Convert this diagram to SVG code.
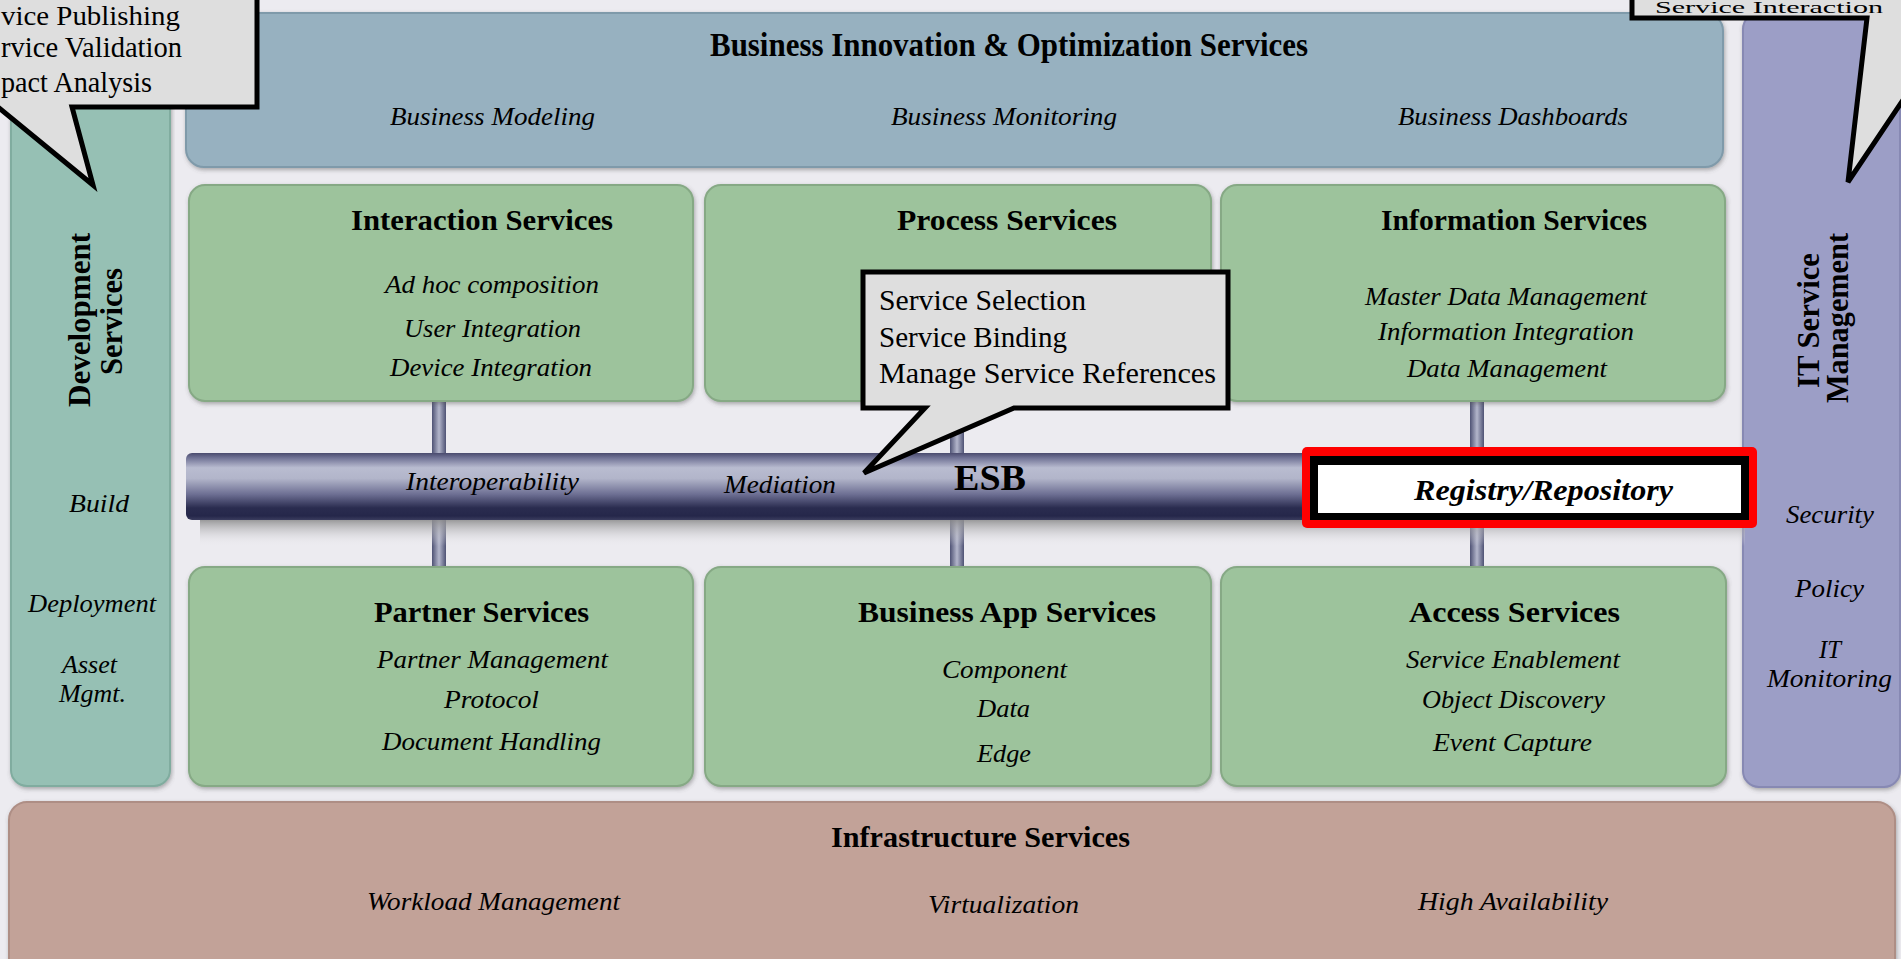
<svg xmlns="http://www.w3.org/2000/svg" width="1901" height="959" viewBox="0 0 1901 959">
<defs>
  <linearGradient id="tubeG" x1="0" y1="0" x2="0" y2="1">
    <stop offset="0" stop-color="#4a4b6e"/>
    <stop offset="0.07" stop-color="#6f7194"/>
    <stop offset="0.22" stop-color="#b9bcd0"/>
    <stop offset="0.38" stop-color="#b2b5ca"/>
    <stop offset="0.62" stop-color="#6c6e92"/>
    <stop offset="0.82" stop-color="#2a2c4f"/>
    <stop offset="0.94" stop-color="#25274a"/>
    <stop offset="1" stop-color="#3b3d5e"/>
  </linearGradient>
  <linearGradient id="pipeG" x1="0" y1="0" x2="1" y2="0">
    <stop offset="0" stop-color="#4e5274"/>
    <stop offset="0.5" stop-color="#b3b6cb"/>
    <stop offset="1" stop-color="#4e5274"/>
  </linearGradient>
  <linearGradient id="shadowG" x1="0" y1="0" x2="0" y2="1">
    <stop offset="0" stop-color="#7e7e7e"/>
    <stop offset="1" stop-color="#ECEBF0" stop-opacity="0"/>
  </linearGradient>
  <filter id="ds" x="-3%" y="-5%" width="106%" height="115%">
    <feDropShadow dx="1" dy="2" stdDeviation="2" flood-color="#555" flood-opacity="0.45"/>
  </filter>
</defs>
<style>
  .b{font-family:"Liberation Serif","Times New Roman",serif;font-weight:bold;fill:#000}
  .i{font-family:"Liberation Serif","Times New Roman",serif;font-style:italic;fill:#000}
  .r{font-family:"Liberation Serif","Times New Roman",serif;fill:#000}
  .h{font-size:29px}
  .t{font-size:26px}
  .c{font-size:30px}
  .green{fill:#9DC39C;stroke:#86A985;stroke-width:2}
  .call{fill:#DEDEDE;stroke:#000;stroke-width:5;stroke-linejoin:miter}
</style>

<rect x="0" y="0" width="1901" height="959" fill="#ECEBF0"/>

<g id="connectors">
  <rect x="432" y="396" width="14" height="176" fill="url(#pipeG)"/>
  <rect x="950" y="396" width="14" height="176" fill="url(#pipeG)"/>
  <rect x="1470" y="396" width="14" height="176" fill="url(#pipeG)"/>
</g>

<g id="infrastructure-services">
  <rect x="9" y="802" width="1886" height="175" rx="18" fill="#C2A298" stroke="#AE8E85" stroke-width="2" filter="url(#ds)"/>
  <text class="b h" x="831" y="847" textLength="299" lengthAdjust="spacingAndGlyphs">Infrastructure Services</text>
  <text class="i t" x="367" y="910" textLength="253" lengthAdjust="spacingAndGlyphs">Workload Management</text>
  <text class="i t" x="928" y="913" textLength="151" lengthAdjust="spacingAndGlyphs">Virtualization</text>
  <text class="i t" x="1418" y="910" textLength="190" lengthAdjust="spacingAndGlyphs">High Availability</text>
</g>

<g id="development-services">
  <rect x="11" y="13" width="159" height="773" rx="16" fill="#96C0B4" stroke="#80AC9F" stroke-width="2" filter="url(#ds)"/>
  <text class="b" font-size="32" transform="translate(90,407) rotate(-90)" textLength="174" lengthAdjust="spacingAndGlyphs">Development</text>
  <text class="b" font-size="32" transform="translate(122,375) rotate(-90)" textLength="107" lengthAdjust="spacingAndGlyphs">Services</text>
  <text class="i t" x="69" y="512" textLength="60" lengthAdjust="spacingAndGlyphs">Build</text>
  <text class="i t" x="28" y="612" textLength="128" lengthAdjust="spacingAndGlyphs">Deployment</text>
  <text class="i t" x="62" y="673" textLength="55" lengthAdjust="spacingAndGlyphs">Asset</text>
  <text class="i t" x="59" y="702" textLength="67" lengthAdjust="spacingAndGlyphs">Mgmt.</text>
</g>

<g id="it-service-management">
  <rect x="1743" y="13" width="157" height="774" rx="16" fill="#9C9EC6" stroke="#8789B3" stroke-width="2" filter="url(#ds)"/>
  <text class="b" font-size="32" transform="translate(1819,388) rotate(-90)" textLength="135" lengthAdjust="spacingAndGlyphs">IT Service</text>
  <text class="b" font-size="32" transform="translate(1848,403) rotate(-90)" textLength="170" lengthAdjust="spacingAndGlyphs">Management</text>
  <text class="i t" x="1786" y="523" textLength="88" lengthAdjust="spacingAndGlyphs">Security</text>
  <text class="i t" x="1795" y="597" textLength="69" lengthAdjust="spacingAndGlyphs">Policy</text>
  <text class="i t" x="1819" y="658" textLength="22" lengthAdjust="spacingAndGlyphs">IT</text>
  <text class="i t" x="1767" y="687" textLength="125" lengthAdjust="spacingAndGlyphs">Monitoring</text>
</g>

<g id="business-innovation">
  <rect x="186" y="13" width="1537" height="154" rx="18" fill="#97B1C0" stroke="#7F9AAA" stroke-width="2" filter="url(#ds)"/>
  <text class="b" font-size="33" x="710" y="56" textLength="598" lengthAdjust="spacingAndGlyphs">Business Innovation &amp; Optimization Services</text>
  <text class="i t" x="390" y="125" textLength="205" lengthAdjust="spacingAndGlyphs">Business Modeling</text>
  <text class="i t" x="891" y="125" textLength="226" lengthAdjust="spacingAndGlyphs">Business Monitoring</text>
  <text class="i t" x="1398" y="125" textLength="230" lengthAdjust="spacingAndGlyphs">Business Dashboards</text>
</g>

<g id="interaction-services">
  <rect class="green" x="189" y="185" width="504" height="216" rx="16" filter="url(#ds)"/>
  <text class="b h" x="351" y="230" textLength="262" lengthAdjust="spacingAndGlyphs">Interaction Services</text>
  <text class="i t" x="385" y="293" textLength="214" lengthAdjust="spacingAndGlyphs">Ad hoc composition</text>
  <text class="i t" x="404" y="337" textLength="177" lengthAdjust="spacingAndGlyphs">User Integration</text>
  <text class="i t" x="390" y="376" textLength="202" lengthAdjust="spacingAndGlyphs">Device Integration</text>
</g>

<g id="process-services">
  <rect class="green" x="705" y="185" width="506" height="216" rx="16" filter="url(#ds)"/>
  <text class="b h" x="897" y="230" textLength="220" lengthAdjust="spacingAndGlyphs">Process Services</text>
</g>

<g id="information-services">
  <rect class="green" x="1221" y="185" width="504" height="216" rx="16" filter="url(#ds)"/>
  <text class="b h" x="1381" y="230" textLength="266" lengthAdjust="spacingAndGlyphs">Information Services</text>
  <text class="i t" x="1365" y="305" textLength="282" lengthAdjust="spacingAndGlyphs">Master Data Management</text>
  <text class="i t" x="1378" y="340" textLength="256" lengthAdjust="spacingAndGlyphs">Information Integration</text>
  <text class="i t" x="1407" y="377" textLength="200" lengthAdjust="spacingAndGlyphs">Data Management</text>
</g>

<g id="partner-services">
  <rect class="green" x="189" y="567" width="504" height="219" rx="16" filter="url(#ds)"/>
  <text class="b h" x="374" y="622" textLength="215" lengthAdjust="spacingAndGlyphs">Partner Services</text>
  <text class="i t" x="377" y="668" textLength="231" lengthAdjust="spacingAndGlyphs">Partner Management</text>
  <text class="i t" x="444" y="708" textLength="95" lengthAdjust="spacingAndGlyphs">Protocol</text>
  <text class="i t" x="382" y="750" textLength="219" lengthAdjust="spacingAndGlyphs">Document Handling</text>
</g>

<g id="business-app-services">
  <rect class="green" x="705" y="567" width="506" height="219" rx="16" filter="url(#ds)"/>
  <text class="b h" x="858" y="622" textLength="298" lengthAdjust="spacingAndGlyphs">Business App Services</text>
  <text class="i t" x="942" y="678" textLength="125" lengthAdjust="spacingAndGlyphs">Component</text>
  <text class="i t" x="977" y="717" textLength="53" lengthAdjust="spacingAndGlyphs">Data</text>
  <text class="i t" x="977" y="762" textLength="54" lengthAdjust="spacingAndGlyphs">Edge</text>
</g>

<g id="access-services">
  <rect class="green" x="1221" y="567" width="505" height="219" rx="16" filter="url(#ds)"/>
  <text class="b h" x="1409" y="622" textLength="211" lengthAdjust="spacingAndGlyphs">Access Services</text>
  <text class="i t" x="1406" y="668" textLength="214" lengthAdjust="spacingAndGlyphs">Service Enablement</text>
  <text class="i t" x="1422" y="708" textLength="183" lengthAdjust="spacingAndGlyphs">Object Discovery</text>
  <text class="i t" x="1433" y="751" textLength="159" lengthAdjust="spacingAndGlyphs">Event Capture</text>
</g>

<g id="esb">
  <rect x="200" y="516" width="1545" height="30" fill="url(#shadowG)"/>
  <rect x="186" y="453" width="1560" height="67" rx="6" fill="url(#tubeG)"/>
  <text class="i t" x="406" y="490" textLength="173" lengthAdjust="spacingAndGlyphs">Interoperability</text>
  <text class="i t" x="724" y="493" textLength="112" lengthAdjust="spacingAndGlyphs">Mediation</text>
  <text class="b" font-size="35" x="954" y="490" textLength="72" lengthAdjust="spacingAndGlyphs">ESB</text>
</g>

<g id="registry-repository">
  <rect x="1302" y="447" width="455" height="81" rx="5" fill="#FF0000"/>
  <rect x="1310" y="456" width="439" height="64" fill="#000"/>
  <rect x="1318" y="465" width="423" height="48" fill="#FFF"/>
  <text class="b" font-style="italic" font-size="30" x="1414" y="500" textLength="259" lengthAdjust="spacingAndGlyphs">Registry/Repository</text>
</g>

<g id="callout-development">
  <path class="call" d="M-10,-10 L257,-10 L257,107 L72,107 L93,185 L-2,107 L-10,107 Z"/>
  <text class="r" font-size="28" x="1" y="25" textLength="179" lengthAdjust="spacingAndGlyphs">vice Publishing</text>
  <text class="r c" x="1" y="57" textLength="181" lengthAdjust="spacingAndGlyphs">rvice Validation</text>
  <text class="r c" x="1" y="92" textLength="151" lengthAdjust="spacingAndGlyphs">pact Analysis</text>
</g>

<g id="callout-it">
  <path class="call" d="M1632,-10 L1632,18 L1867,18 L1848,182 L1958,18 L1960,-10 Z"/>
  <text class="r" font-size="17" x="1655" y="13" textLength="228" lengthAdjust="spacingAndGlyphs">Service Interaction</text>
</g>

<g id="callout-esb">
  <path class="call" d="M863,272 H1228 V408 H1014 L864,473 L925,408 H863 Z"/>
  <text class="r c" x="879" y="310" textLength="207" lengthAdjust="spacingAndGlyphs">Service Selection</text>
  <text class="r c" x="879" y="347" textLength="188" lengthAdjust="spacingAndGlyphs">Service Binding</text>
  <text class="r c" x="879" y="383" textLength="337" lengthAdjust="spacingAndGlyphs">Manage Service References</text>
</g>
</svg>
